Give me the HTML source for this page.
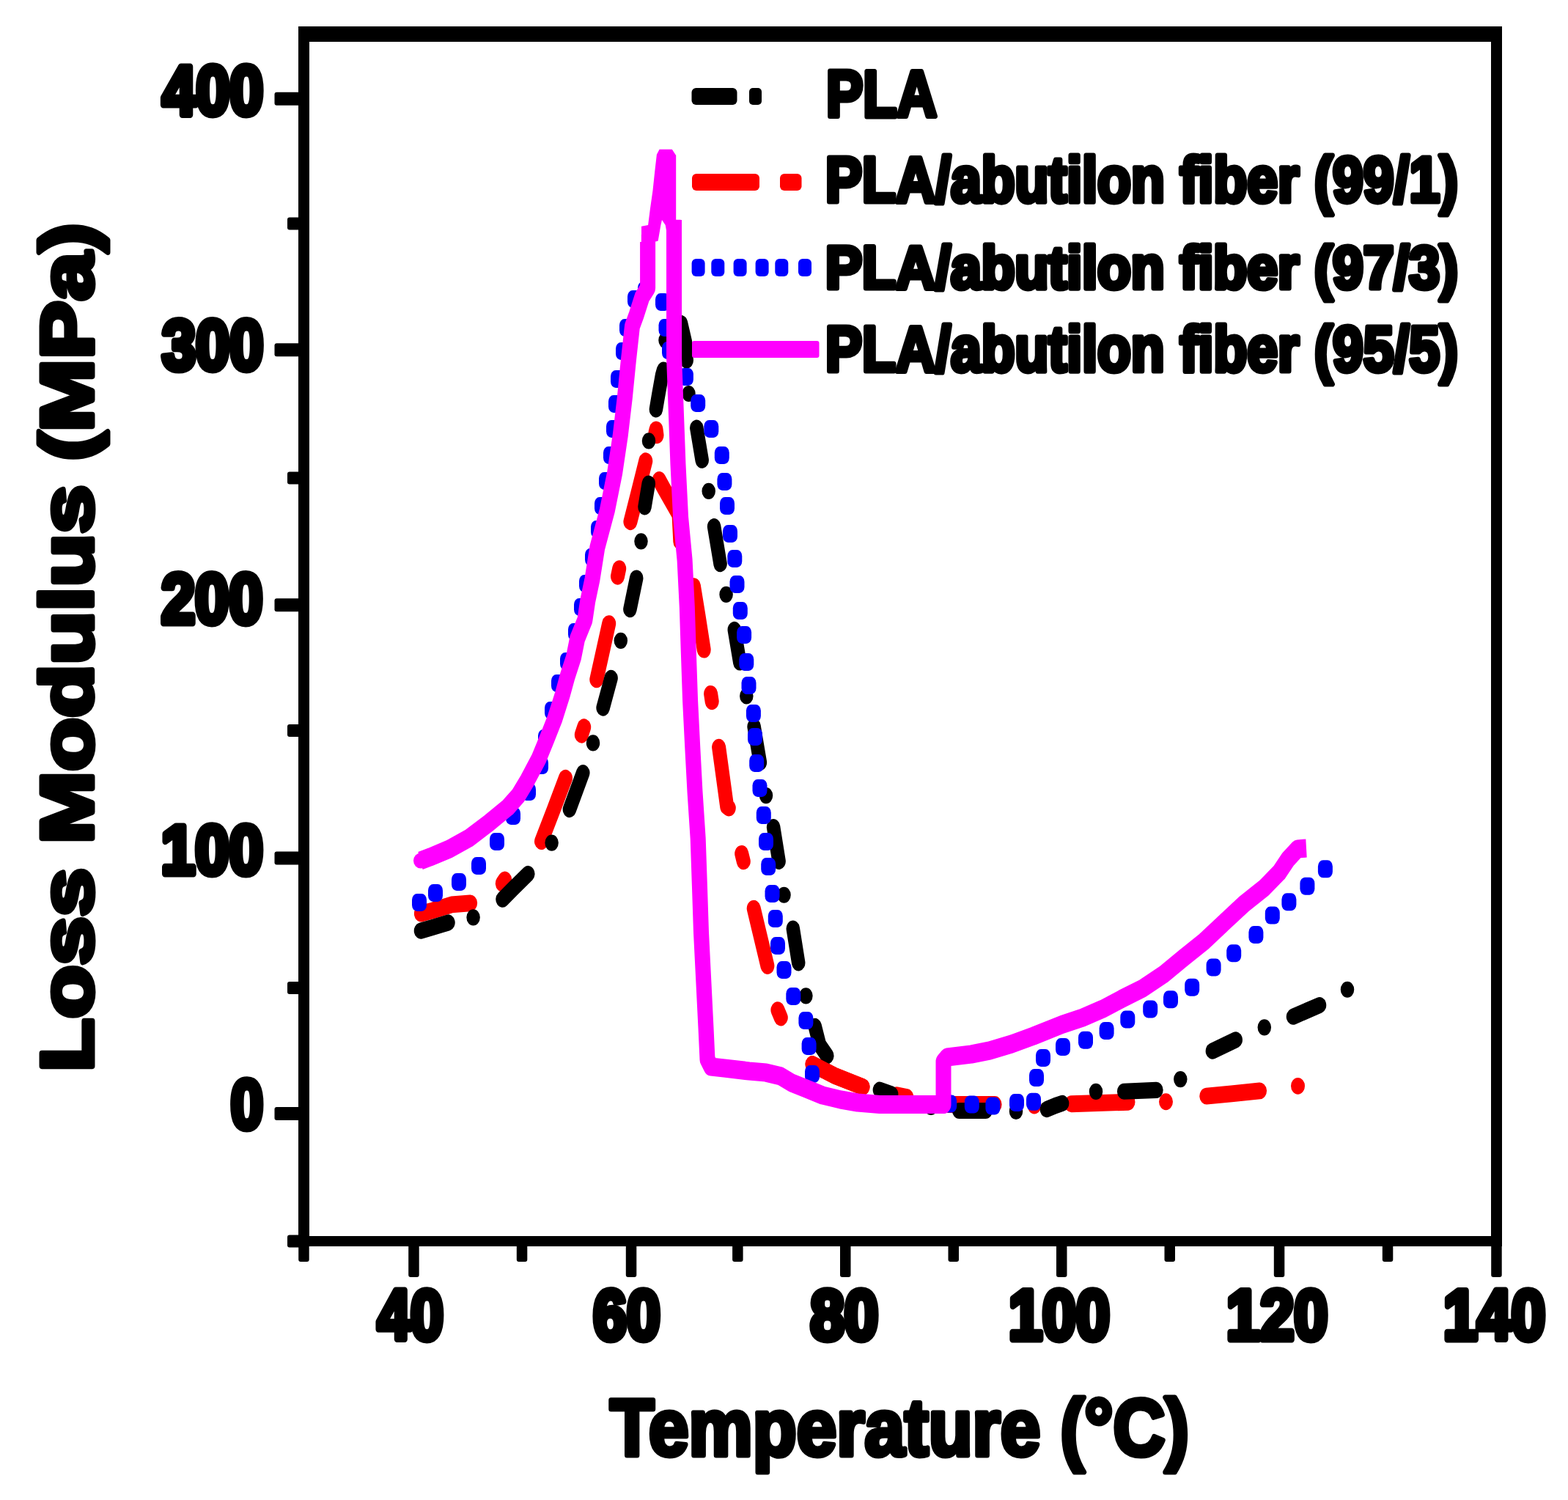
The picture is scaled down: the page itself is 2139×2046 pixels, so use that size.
<!DOCTYPE html><html><head><meta charset="utf-8"><title>Loss Modulus vs Temperature</title><style>html,body{margin:0;padding:0;background:#fff;overflow:hidden}svg{display:block}</style></head><body>
<svg width="2139" height="2046" viewBox="0 0 2139 2046">
<rect width="2139" height="2046" fill="#fff"/>
<g id="curves" transform="scale(1,1.2)">
<path d="M574.4,1038.5L590.0,1035.0L616.0,1028.3L641.6,1026.5M685.3,1004.2L688.7,1000.0M738.5,956.4L755.0,920.8L771.5,884.4M793.3,835.2L796.7,826.5M813.8,772.4L822.0,741.7L830.7,708.8M842.5,655.2L844.7,646.4M859.9,593.1L870.0,560.0L880.8,524.0M894.0,491.9L895.0,488.3L896.0,494.8M899.2,545.4L906.0,555.8L926.0,585.0L927.8,615.5M946.4,666.3L953.0,700.0L960.2,738.5M969.6,788.6L971.2,797.4M980.6,849.3L991.7,916.7L994.3,918.3M1011.7,970.3L1014.3,979.1M1028.2,1032.6L1046.9,1097.9M1060.9,1148.0L1065.3,1156.7M1108.0,1209.6L1140.0,1223.3L1177.0,1235.4M1223.2,1244.7L1236.8,1247.0M1294.5,1255.4L1357.1,1255.4M1411.0,1256.7L1411.0,1256.7M1461.5,1254.8L1539.0,1252.7M1590.5,1252.3L1590.5,1252.3M1645.8,1246.0L1680.0,1243.3L1718.5,1239.9M1770.5,1234.4L1770.5,1234.4" fill="none" stroke="#ff0000" stroke-width="19.0" stroke-linecap="round" stroke-linejoin="round"/>
<path d="M574.0,1058.0L590.0,1054.2L611.5,1048.7M645.6,1042.8l0.01,0M685.5,1022.2L700.0,1010.0L720.3,993.3M752.6,958.0l0.01,0M776.9,920.0L795.3,878.4M809.0,844.5l0.01,0M822.6,804.6L833.6,770.7M846.8,728.2l0.01,0M859.4,692.6L868.2,657.1M874.5,615.3l0.01,0M879.5,576.1L884.8,549.6M885.0,501.2l0.01,0M894.9,465.3L898.0,450.0L903.0,426.7L905.1,420.5M907.5,386.7l0.01,0M918.3,379.5L921.0,365.0L929.0,367.5L935.0,389.2L936.7,409.6M939.5,447.5l0.01,0M950.3,486.4L957.7,523.1M966.7,558.3l0.01,0M974.1,598.5L982.6,641.0M990.6,675.8l0.01,0M1001.8,715.8L1009.3,752.9M1018.3,791.2l0.01,0M1028.6,825.9L1036.9,866.7M1045.0,904.2l0.01,0M1055.1,940.1L1062.6,979.0M1069.5,1017.3l0.01,0M1081.8,1055.6L1089.2,1094.4M1099.4,1131.9l0.01,0M1111.7,1166.6L1118.0,1187.5L1128.3,1200.1M1199.9,1238.9L1216.1,1243.6M1270.0,1258.3l0.01,0M1308.2,1262.5L1344.8,1262.5M1386.0,1263.3l0.01,0M1427.9,1260.9L1440.0,1256.7L1449.1,1254.1M1495.0,1240.8l0.01,0M1533.2,1240.6L1577.4,1239.1M1610.3,1226.7l0.01,0M1653.9,1194.7L1685.7,1182.0M1724.8,1167.8l0.01,0M1764.0,1155.6L1800.0,1142.6M1838.0,1124.8l0.01,0" fill="none" stroke="#000000" stroke-width="18.5" stroke-linecap="round" stroke-linejoin="round"/>
<path d="M1108.0,1209.6L1140.0,1223.3L1177.0,1235.4" fill="none" stroke="#ff0000" stroke-width="19.0" stroke-linecap="round" stroke-linejoin="round"/>
<g fill="#0000ff"><rect x="562.0" y="1015.8" width="20" height="20" rx="7"/><rect x="584.0" y="1005.0" width="20" height="20" rx="7"/><rect x="616.0" y="992.5" width="20" height="20" rx="7"/><rect x="643.0" y="974.2" width="20" height="20" rx="7"/><rect x="668.0" y="946.7" width="20" height="20" rx="7"/><rect x="690.0" y="917.5" width="20" height="20" rx="7"/><rect x="711.0" y="890.0" width="20" height="20" rx="7"/><rect x="728.0" y="860.0" width="20" height="20" rx="7"/><rect x="734.0" y="829.2" width="20" height="20" rx="7"/><rect x="743.0" y="797.5" width="20" height="20" rx="7"/><rect x="752.0" y="766.7" width="20" height="20" rx="7"/><rect x="764.0" y="741.7" width="20" height="20" rx="7"/><rect x="775.0" y="708.3" width="20" height="20" rx="7"/><rect x="783.0" y="680.0" width="20" height="20" rx="7"/><rect x="790.0" y="653.3" width="20" height="20" rx="7"/><rect x="798.0" y="623.3" width="20" height="20" rx="7"/><rect x="806.0" y="591.7" width="20" height="20" rx="7"/><rect x="811.0" y="565.0" width="20" height="20" rx="7"/><rect x="817.0" y="536.7" width="20" height="20" rx="7"/><rect x="823.0" y="507.5" width="20" height="20" rx="7"/><rect x="827.0" y="477.5" width="20" height="20" rx="7"/><rect x="830.0" y="449.2" width="20" height="20" rx="7"/><rect x="833.0" y="420.8" width="20" height="20" rx="7"/><rect x="840.0" y="389.2" width="20" height="20" rx="7"/><rect x="845.0" y="362.5" width="20" height="20" rx="7"/><rect x="856.0" y="330.0" width="20" height="20" rx="7"/><rect x="870.0" y="320.0" width="20" height="20" rx="7"/><rect x="894.0" y="333.3" width="20" height="20" rx="7"/><rect x="898.5" y="362.5" width="20" height="20" rx="7"/><rect x="903.0" y="388.3" width="20" height="20" rx="7"/><rect x="910.0" y="404.2" width="20" height="20" rx="7"/><rect x="925.9" y="418.3" width="20" height="20" rx="7"/><rect x="942.2" y="448.3" width="20" height="20" rx="7"/><rect x="960.3" y="477.5" width="20" height="20" rx="7"/><rect x="974.8" y="507.5" width="20" height="20" rx="7"/><rect x="978.4" y="537.5" width="20" height="20" rx="7"/><rect x="982.0" y="565.0" width="20" height="20" rx="7"/><rect x="986.0" y="596.7" width="20" height="20" rx="7"/><rect x="992.3" y="625.0" width="20" height="20" rx="7"/><rect x="995.5" y="654.2" width="20" height="20" rx="7"/><rect x="999.8" y="684.2" width="20" height="20" rx="7"/><rect x="1005.1" y="711.7" width="20" height="20" rx="7"/><rect x="1008.3" y="742.5" width="20" height="20" rx="7"/><rect x="1011.5" y="769.2" width="20" height="20" rx="7"/><rect x="1017.9" y="800.8" width="20" height="20" rx="7"/><rect x="1020.0" y="827.5" width="20" height="20" rx="7"/><rect x="1022.2" y="857.5" width="20" height="20" rx="7"/><rect x="1026.5" y="885.8" width="20" height="20" rx="7"/><rect x="1031.8" y="916.7" width="20" height="20" rx="7"/><rect x="1035.0" y="946.7" width="20" height="20" rx="7"/><rect x="1038.2" y="975.0" width="20" height="20" rx="7"/><rect x="1043.5" y="1005.8" width="20" height="20" rx="7"/><rect x="1047.8" y="1034.2" width="20" height="20" rx="7"/><rect x="1051.0" y="1065.0" width="20" height="20" rx="7"/><rect x="1059.5" y="1092.5" width="20" height="20" rx="7"/><rect x="1072.3" y="1122.5" width="20" height="20" rx="7"/><rect x="1089.4" y="1150.0" width="20" height="20" rx="7"/><rect x="1093.6" y="1179.2" width="20" height="20" rx="7"/><rect x="1098.0" y="1210.8" width="20" height="20" rx="7"/><rect x="1285.2" y="1244.5" width="20" height="20" rx="7"/><rect x="1315.8" y="1245.4" width="20" height="20" rx="7"/><rect x="1344.4" y="1247.1" width="20" height="20" rx="7"/><rect x="1377.0" y="1243.3" width="20" height="20" rx="7"/><rect x="1400.0" y="1242.2" width="20" height="20" rx="7"/><rect x="1404.0" y="1215.0" width="20" height="20" rx="7"/><rect x="1413.0" y="1192.5" width="20" height="20" rx="7"/><rect x="1440.0" y="1180.0" width="20" height="20" rx="7"/><rect x="1471.0" y="1172.2" width="20" height="20" rx="7"/><rect x="1499.6" y="1161.7" width="20" height="20" rx="7"/><rect x="1528.3" y="1148.8" width="20" height="20" rx="7"/><rect x="1559.2" y="1137.1" width="20" height="20" rx="7"/><rect x="1587.0" y="1126.1" width="20" height="20" rx="7"/><rect x="1616.2" y="1112.2" width="20" height="20" rx="7"/><rect x="1645.6" y="1089.6" width="20" height="20" rx="7"/><rect x="1673.2" y="1073.5" width="20" height="20" rx="7"/><rect x="1703.4" y="1052.5" width="20" height="20" rx="7"/><rect x="1725.8" y="1030.5" width="20" height="20" rx="7"/><rect x="1748.4" y="1015.2" width="20" height="20" rx="7"/><rect x="1773.4" y="997.2" width="20" height="20" rx="7"/><rect x="1797.9" y="977.8" width="20" height="20" rx="7"/></g>
<polyline points="573.5,978.3 586.6,974.2 613.0,965.0 640.0,952.5 666.5,935.8 693.0,917.5 707.0,904.2 719.6,886.7 734.8,862.8 746.0,840.0 757.0,816.7 767.2,789.9 774.2,768.6 782.5,747.3 787.6,726.0 797.9,704.7 801.7,683.3 808.0,658.3 814.8,622.5 828.4,580.0 838.7,537.3 846.3,494.6 852.3,452.0 857.4,409.3 862.5,370.8 868.0,358.3 876.0,337.5 883.6,327.5 883.6,275.0" fill="none" stroke="#ff00ff" stroke-width="21.0" stroke-linejoin="round" stroke-linecap="butt"/>
<ellipse cx="574" cy="978.3" rx="10" ry="8.75" fill="#ff00ff"/>
<polyline points="883.6,329.2 883.6,266.7" fill="none" stroke="#ff00ff" stroke-width="17.5"/>
<polygon points="899.6,169.7 916.8,169.7 922.2,176.7 922.2,249.7 928.6,249.7 928.6,266.7 910.0,266.7 907.7,255.8 903.0,250.0 901.4,255.8 897.7,273.8 892.3,275.3 892.3,283.3 875.0,283.3 875.0,257.2 884.1,255.8 886.9,237.6 890.5,216.4 893.2,195.3 895.9,175.7" fill="#ff00ff"/>
<polyline points="919.5,250.0 919.6,407.5 922.3,467.5 925.0,528.3 928.6,588.3 934.1,636.7 937.3,690.0 939.4,743.3 941.6,796.7 944.8,850.0 948.0,900.0 952.2,953.3 954.4,1006.7 956.5,1060.0 959.7,1113.3 962.9,1166.7 965.0,1204.2 970.0,1212.5 988.0,1214.2 1022.0,1217.5 1045.0,1219.2 1065.0,1223.3 1080.0,1230.8 1100.0,1237.5 1122.0,1245.0 1147.0,1250.0 1170.0,1253.3 1200.0,1255.4 1287.0,1255.4 1287.0,1206.7 1292.0,1201.7 1325.0,1198.3 1350.0,1194.2 1380.0,1186.7 1410.0,1177.5 1449.0,1164.5 1476.7,1156.8 1504.3,1146.8 1531.8,1134.7 1559.3,1123.2 1586.9,1107.8 1614.4,1088.8 1642.0,1070.4 1669.5,1048.9 1697.0,1027.5 1724.6,1009.2 1745.0,991.7 1757.0,976.7 1770.0,965.0 1782.0,964.2" fill="none" stroke="#ff00ff" stroke-width="21.0" stroke-linejoin="round" stroke-linecap="butt"/>
</g>
<g fill="#000">
<rect x="407" y="36" width="1642" height="21"/>
<rect x="407" y="36" width="15" height="1664"/>
<rect x="2034" y="36" width="15" height="1664"/>
<rect x="407" y="1686" width="1642" height="14"/>
<rect x="374.5" y="125.7" width="40" height="18" rx="3"/>
<rect x="374.5" y="468.3" width="40" height="18" rx="3"/>
<rect x="374.5" y="816.3" width="40" height="18" rx="3"/>
<rect x="374.5" y="1161.4" width="40" height="18" rx="3"/>
<rect x="374.5" y="1510.0" width="40" height="18" rx="3"/>
<rect x="392" y="296.5" width="20" height="17" rx="3"/>
<rect x="392" y="643.5" width="20" height="17" rx="3"/>
<rect x="392" y="988.0" width="20" height="17" rx="3"/>
<rect x="392" y="1338.9" width="20" height="17" rx="3"/>
<rect x="392" y="1684.5" width="20" height="17" rx="3"/>
<rect x="557.2" y="1690" width="14.5" height="52" rx="3"/>
<rect x="853.8" y="1690" width="14.5" height="52" rx="3"/>
<rect x="1146.0" y="1690" width="14.5" height="52" rx="3"/>
<rect x="1441.0" y="1690" width="14.5" height="52" rx="3"/>
<rect x="1737.8" y="1690" width="14.5" height="52" rx="3"/>
<rect x="2034.2" y="1690" width="14.5" height="52" rx="3"/>
<rect x="407.2" y="1690" width="14.5" height="31" rx="3"/>
<rect x="704.8" y="1690" width="14.5" height="31" rx="3"/>
<rect x="999.1" y="1690" width="14.5" height="31" rx="3"/>
<rect x="1293.5" y="1690" width="14.5" height="31" rx="3"/>
<rect x="1588.5" y="1690" width="14.5" height="31" rx="3"/>
<rect x="1885.8" y="1690" width="14.5" height="31" rx="3"/>
</g>
<g>
<rect x="943.5" y="120" width="62" height="23" rx="6" fill="#000"/>
<rect x="1022" y="120" width="17" height="23" rx="5" fill="#000"/>
<rect x="944" y="237" width="92" height="23" rx="6" fill="#ff0000"/>
<rect x="1064" y="237" width="29.5" height="23" rx="6" fill="#ff0000"/>
<rect x="943.6" y="353" width="18" height="24" rx="6" fill="#0000ff"/>
<rect x="970.3" y="353" width="18" height="24" rx="6" fill="#0000ff"/>
<rect x="1000.6" y="353" width="18" height="24" rx="6" fill="#0000ff"/>
<rect x="1030.6" y="353" width="18" height="24" rx="6" fill="#0000ff"/>
<rect x="1057.3" y="353" width="18" height="24" rx="6" fill="#0000ff"/>
<rect x="1089.0" y="353" width="18" height="24" rx="6" fill="#0000ff"/>
<rect x="944" y="465" width="173.5" height="23" rx="3" fill="#ff00ff"/>
</g>
<g font-family="'Liberation Sans', Arial, sans-serif" font-weight="bold" fill="#000" stroke="#000" stroke-linejoin="round">
<text x="221.50" y="156.20" font-size="95.30" textLength="137.67" lengthAdjust="spacingAndGlyphs" stroke-width="9">400</text>
<text x="220.90" y="503.80" font-size="97.02" textLength="138.63" lengthAdjust="spacingAndGlyphs" stroke-width="9">300</text>
<text x="219.90" y="850.20" font-size="97.02" textLength="138.63" lengthAdjust="spacingAndGlyphs" stroke-width="9">200</text>
<text x="219.80" y="1191.90" font-size="93.92" textLength="139.12" lengthAdjust="spacingAndGlyphs" stroke-width="9">100</text>
<text x="314.70" y="1539.00" font-size="94.05" textLength="44.23" lengthAdjust="spacingAndGlyphs" stroke-width="9">0</text>
<text x="515.00" y="1826.50" font-size="96.05" textLength="89.91" lengthAdjust="spacingAndGlyphs" stroke-width="9">40</text>
<text x="809.20" y="1826.50" font-size="96.05" textLength="91.63" lengthAdjust="spacingAndGlyphs" stroke-width="9">60</text>
<text x="1105.40" y="1826.50" font-size="96.05" textLength="92.83" lengthAdjust="spacingAndGlyphs" stroke-width="9">80</text>
<text x="1376.00" y="1826.50" font-size="96.05" textLength="137.92" lengthAdjust="spacingAndGlyphs" stroke-width="9">100</text>
<text x="1673.10" y="1826.50" font-size="96.05" textLength="138.21" lengthAdjust="spacingAndGlyphs" stroke-width="9">120</text>
<text x="1968.90" y="1826.50" font-size="96.05" textLength="139.23" lengthAdjust="spacingAndGlyphs" stroke-width="9">140</text>
<text x="832.30" y="1984.70" font-size="109.52" textLength="789.71" lengthAdjust="spacingAndGlyphs" stroke-width="7">Temperature (°C)</text>
<text x="125.78" y="1462.00" font-size="101.01" textLength="1157.63" lengthAdjust="spacingAndGlyphs" stroke-width="7" transform="rotate(-90 125.78 1462.00)">Loss Modulus (MPa)</text>
<text x="1127.00" y="159.40" font-size="89.34" textLength="151.01" lengthAdjust="spacingAndGlyphs" stroke-width="7">PLA</text>
<text x="1126.00" y="274.80" font-size="86.23" textLength="863.12" lengthAdjust="spacingAndGlyphs" stroke-width="7">PLA/abutilon fiber (99/1)</text>
<text x="1126.00" y="393.20" font-size="81.57" textLength="863.02" lengthAdjust="spacingAndGlyphs" stroke-width="7">PLA/abutilon fiber (97/3)</text>
<text x="1126.00" y="505.80" font-size="86.93" textLength="863.02" lengthAdjust="spacingAndGlyphs" stroke-width="7">PLA/abutilon fiber (95/5)</text>
</g>
</svg></body></html>
